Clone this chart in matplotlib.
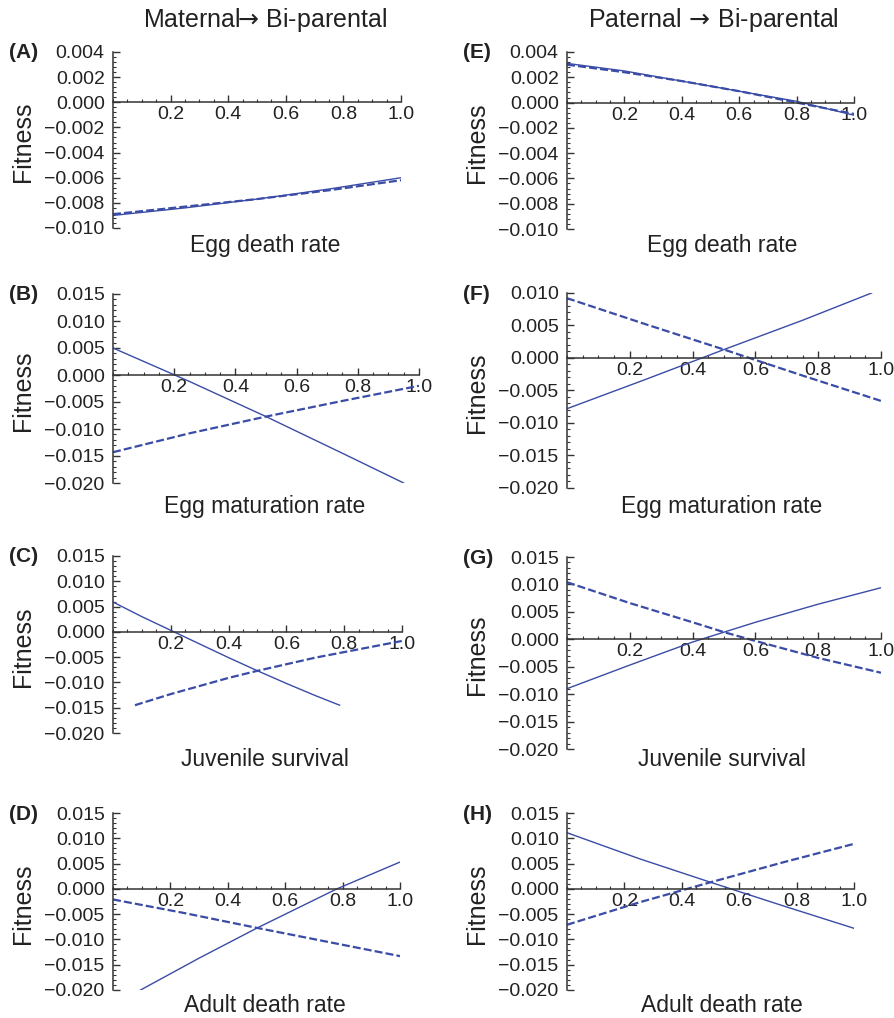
import matplotlib
matplotlib.use('Agg')
import matplotlib.pyplot as plt
from matplotlib.ticker import MultipleLocator, FixedLocator, FixedFormatter

plt.rcParams['font.family'] = ['Liberation Sans', 'DejaVu Sans']
plt.rcParams['mathtext.fontset'] = 'dejavusans'

BLUE = '#3a4ca6'
INK = '#222222'

# panel data: x values and fitness values, solid and dashed curves
a_sx = [0, 0.25, 0.5, 0.75, 1.0]
a_sy = [-0.0090, -0.0084, -0.0077, -0.0069, -0.0060]
a_dx = [0, 0.25, 0.5, 0.75, 1.0]
a_dy = [-0.0089, -0.0083, -0.0077, -0.0070, -0.0062]

b_sx = [0, 0.25, 0.5, 0.75, 0.95]
b_sy = [0.0050, -0.0012, -0.0077, -0.0145, -0.0200]
b_dx = [0, 0.25, 0.5, 0.75, 1.0]
b_dy = [-0.0143, -0.0108, -0.0077, -0.0048, -0.0020]

c_sx = [0, 0.1, 0.2, 0.3, 0.4, 0.5, 0.6, 0.7, 0.784]
c_sy = [0.0059, 0.0030, 0.0003, -0.0024, -0.0051, -0.0077, -0.0102, -0.0126, -0.0145]
c_dx = [0.076, 0.2, 0.3, 0.4, 0.5, 0.6, 0.7, 0.8, 0.9, 1.0]
c_dy = [-0.0145, -0.0123, -0.0107, -0.0091, -0.0077, -0.0064, -0.0051, -0.0040, -0.0029, -0.0018]

d_sx = [0.096, 0.3, 0.5, 0.78, 1.0]
d_sy = [-0.0200, -0.0137, -0.0078, 0.0000, 0.0053]
d_dx = [0, 0.25, 0.5, 0.75, 1.0]
d_dy = [-0.0021, -0.0048, -0.0077, -0.0105, -0.0133]

e_sx = [0, 0.2, 0.4, 0.6, 0.8, 1.0]
e_sy = [0.0031, 0.0025, 0.0017, 0.0009, 0.0001, -0.0010]
e_dx = [0, 0.2, 0.4, 0.6, 0.8, 1.0]
e_dy = [0.0030, 0.0024, 0.0017, 0.0009, 0.0000, -0.0009]

f_sx = [0, 0.25, 0.5, 0.75, 0.97]
f_sy = [-0.0078, -0.0033, 0.0013, 0.0058, 0.0100]
f_dx = [0, 0.25, 0.5, 0.75, 1.0]
f_dy = [0.0092, 0.0052, 0.0013, -0.0027, -0.0066]

g_sx = [0, 0.2, 0.4, 0.5, 0.6, 0.8, 1.0]
g_sy = [-0.0090, -0.0047, -0.0005, 0.0013, 0.0031, 0.0064, 0.0094]
g_dx = [0, 0.2, 0.4, 0.5, 0.6, 0.8, 1.0]
g_dy = [0.0104, 0.0066, 0.0031, 0.0013, -0.0003, -0.0034, -0.0061]

h_sx = [0, 0.25, 0.5, 0.75, 1.0]
h_sy = [0.0111, 0.0060, 0.0013, -0.0033, -0.0078]
h_dx = [0, 0.25, 0.5, 0.75, 1.0]
h_dy = [-0.0071, -0.0027, 0.0013, 0.0052, 0.0089]

col_titles = ['Maternal$\\!\\!\\rightarrow\\!$ Bi-parental', 'Paternal $\\!\\rightarrow\\!$ Bi-parental']
xlabels = ['Egg death rate', 'Egg maturation rate', 'Juvenile survival', 'Adult death rate']
xticks = [0.2, 0.4, 0.6, 0.8, 1.0]

W, H = 895, 1018
fig = plt.figure(figsize=(W / 100, H / 100), dpi=100)

def px_axes(left, right, top, bottom):
    return fig.add_axes([left / W, 1 - bottom / H, (right - left) / W, (bottom - top) / H])

# (label, box, ylim, major step, solid, dashed, row)
panels = [
    ('(A)', (113, 401, 52, 228), (-0.010, 0.004), 0.002, (a_sx, a_sy), (a_dx, a_dy), 0),
    ('(B)', (113, 419, 294, 483), (-0.020, 0.015), 0.005, (b_sx, b_sy), (b_dx, b_dy), 1),
    ('(C)', (113, 402, 556, 733), (-0.020, 0.015), 0.005, (c_sx, c_sy), (c_dx, c_dy), 2),
    ('(D)', (113, 400, 813, 990), (-0.020, 0.015), 0.005, (d_sx, d_sy), (d_dx, d_dy), 3),
    ('(E)', (567, 854, 52, 229), (-0.010, 0.004), 0.002, (e_sx, e_sy), (e_dx, e_dy), 0),
    ('(F)', (567, 881, 293, 488), (-0.020, 0.010), 0.005, (f_sx, f_sy), (f_dx, f_dy), 1),
    ('(G)', (567, 881, 557, 749), (-0.020, 0.015), 0.005, (g_sx, g_sy), (g_dx, g_dy), 2),
    ('(H)', (567, 854, 813, 990), (-0.020, 0.015), 0.005, (h_sx, h_sy), (h_dx, h_dy), 3),
]
xlabel_y = [245, 507, 759, 1005]

for lab, box, ylim, step, solid, dashed, row in panels:
    ax = px_axes(*box)
    ax.plot(solid[0], solid[1], color=BLUE, lw=1.0)
    ax.plot(dashed[0], dashed[1], color=BLUE, lw=1.6, dashes=(3.6, 1.4))
    ax.set_xlim(0, 1.0)
    ax.set_ylim(*ylim)
    ax.patch.set_visible(False)
    for s in ['top', 'right']:
        ax.spines[s].set_visible(False)
    ax.spines['bottom'].set_position(('data', 0))
    for s in ['left', 'bottom']:
        ax.spines[s].set_color('#333333')
        ax.spines[s].set_linewidth(1.1)

    n = int(round((ylim[1] - ylim[0]) / step))
    yt = [ylim[0] + i * step for i in range(n + 1)]
    ax.yaxis.set_major_locator(FixedLocator(yt))
    ax.yaxis.set_major_formatter(FixedFormatter(
        [f'{v:.3f}'.replace('-', '\u2212') if abs(v) > 1e-9 else '0.000' for v in yt]))
    ax.yaxis.set_minor_locator(MultipleLocator(step / 5))
    ax.xaxis.set_major_locator(FixedLocator(xticks))
    ax.xaxis.set_major_formatter(FixedFormatter([f'{v:.1f}' for v in xticks]))
    ax.xaxis.set_minor_locator(MultipleLocator(0.05))
    ax.tick_params(which='both', direction='in', color='#333333', labelsize=14,
                   labelcolor=INK)
    ax.tick_params(which='major', length=5, width=1.0)
    ax.tick_params(which='minor', length=2.5, width=0.8)
    ax.tick_params(axis='x', pad=3)
    ax.tick_params(axis='y', pad=6)

    left, right, top, bottom = box
    cx = 265 if left < 400 else 722
    fig.text((left - 104) / W, 1 - (top + 1) / H, lab, fontsize=15, fontweight='bold',
             ha='left', va='center', color=INK)
    fig.text((left - 90) / W, 1 - ((top + bottom) / 2 + 2) / H, 'Fitness', rotation=90,
             fontsize=18, ha='center', va='center', color=INK)
    fig.text(cx / W, 1 - xlabel_y[row] / H, xlabels[row], fontsize=16.5,
             ha='center', va='center', color=INK)

fig.text(265 / W, 1 - 20 / H, col_titles[0], fontsize=18, ha='center', va='center', color=INK)
fig.text(713 / W, 1 - 20 / H, col_titles[1], fontsize=18, ha='center', va='center', color=INK)

fig.savefig('out.png', dpi=100)
